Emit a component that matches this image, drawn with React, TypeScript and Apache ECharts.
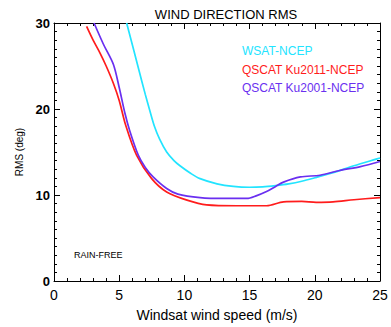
import React, { useEffect, useRef } from "react";
import * as echarts from "echarts";

const xTicks = [0, 5, 10, 15, 20, 25];
const yTicks = [0, 10, 20, 30];

const wsatX = [5.57, 6.5, 7.0, 7.35, 7.7, 8.1, 8.64, 9.2, 9.66, 10.5, 11.2, 12.5, 13.75, 15, 16, 17, 18, 19, 20, 21.4, 23, 25];
const wsatY = [30, 24.6, 21.7, 19.8, 18.0, 16.5, 15.0, 14.0, 13.4, 12.5, 11.9, 11.3, 11.0, 10.9, 10.95, 11.1, 11.3, 11.6, 12.0, 12.6, 13.4, 14.3];

const ku2011X = [2.5, 3.0, 3.53, 4.0, 4.55, 5.0, 5.5, 6.34, 7.49, 8.64, 10.2, 11.7, 14, 16.3, 17.6, 19, 20.1, 21.4, 23, 25];
const ku2011Y = [29.6, 28, 26.5, 25, 23.0, 21, 18.1, 14.6, 11.9, 10.35, 9.4, 8.85, 8.75, 8.75, 9.2, 9.25, 9.15, 9.2, 9.45, 9.7];

const ku2001X = [3.07, 3.8, 4.55, 5.0, 5.44, 5.8, 6.47, 7.0, 7.6, 8.64, 9.5, 11.2, 13, 14.8, 15.5, 16.3, 17, 17.6, 18.9, 20.4, 21.9, 23.5, 25];
const ku2001Y = [30, 27.5, 25.2, 22.5, 19.5, 17.5, 14.6, 13.2, 12.1, 10.75, 10.1, 9.7, 9.6, 9.6, 9.9, 10.4, 11.0, 11.5, 12.1, 12.3, 12.85, 13.3, 13.9];

const legendNames = ["WSAT-NCEP", "QSCAT Ku2011-NCEP", "QSCAT Ku2001-NCEP"];
const colors = ["#22e4ff", "#ff1c1c", "#6a2ff0"];

const pairs = (xs: number[], ys: number[]) => xs.map((x, i) => [x, ys[i]]);

export default function App() {
  const ref = useRef<HTMLDivElement>(null);
  useEffect(() => {
    if (!ref.current) return;
    const chart = echarts.init(ref.current, null, { renderer: "svg" });
    const font = "Liberation Sans";
    const axisCommon = {
      type: "value" as const,
      axisLine: { show: true, onZero: false, lineStyle: { color: "#000", width: 1 } },
      axisTick: { show: true, inside: true, length: 6, lineStyle: { color: "#000" } },
      minorTick: { show: true, splitNumber: 5, length: 3, lineStyle: { color: "#000" } },
      splitLine: { show: false },
    };
    const yCommon = {
      ...axisCommon,
      min: yTicks[0],
      max: yTicks[yTicks.length - 1],
      interval: 10,
      minorTick: { show: true, splitNumber: 10, length: 3, lineStyle: { color: "#000" } },
    };
    chart.setOption({
      animation: false,
      backgroundColor: "#fff",
      title: {
        text: "WIND DIRECTION RMS",
        left: 221,
        top: 3,
        textAlign: "center",
        textStyle: { fontFamily: font, fontSize: 13, fontWeight: "normal", color: "#000" },
      },
      grid: { left: 54, right: 11, top: 23, bottom: 44 },
      xAxis: [
        {
          ...axisCommon,
          position: "bottom",
          min: xTicks[0],
          max: xTicks[xTicks.length - 1],
          interval: 5,
          axisLabel: { show: true, fontFamily: font, fontSize: 14, color: "#000", margin: 7 },
          name: "Windsat wind speed (m/s)",
          nameLocation: "middle",
          nameGap: 27,
          nameTextStyle: { fontFamily: font, fontSize: 14, color: "#000" },
        },
        {
          ...axisCommon,
          position: "top",
          min: xTicks[0],
          max: xTicks[xTicks.length - 1],
          interval: 5,
          axisLabel: { show: false },
        },
      ],
      yAxis: [
        {
          ...yCommon,
          position: "left",
          axisLabel: { show: true, fontFamily: font, fontSize: 13, color: "#000", fontWeight: "bold", margin: 4 },
          name: "RMS (deg)",
          nameLocation: "middle",
          nameGap: 30,
          nameTextStyle: { fontFamily: font, fontSize: 10, color: "#000" },
        },
        {
          ...yCommon,
          position: "right",
          axisLabel: { show: false },
        },
      ],
      series: [
        { name: legendNames[0], data: pairs(wsatX, wsatY), color: colors[0] },
        { name: legendNames[1], data: pairs(ku2011X, ku2011Y), color: colors[1] },
        { name: legendNames[2], data: pairs(ku2001X, ku2001Y), color: colors[2] },
      ].map((s) => ({
        type: "line",
        name: s.name,
        data: s.data,
        smooth: 0.3,
        showSymbol: false,
        clip: true,
        lineStyle: { color: s.color, width: 1.7 },
        itemStyle: { color: s.color },
      })),
      graphic: [
        ...legendNames.map((n, i) => ({
          type: "text",
          left: 242,
          top: [45, 64, 82][i],
          style: { text: n, fill: colors[i], font: `12px ${font}` },
        })),
        {
          type: "text",
          left: 74,
          top: 250,
          style: { text: "RAIN-FREE", fill: "#000", font: `9px ${font}` },
        },
      ],
    });
    return () => chart.dispose();
  }, []);
  return <div ref={ref} style={{ width: 391, height: 327, position: "absolute", left: 0, top: 0 }} />;
}
